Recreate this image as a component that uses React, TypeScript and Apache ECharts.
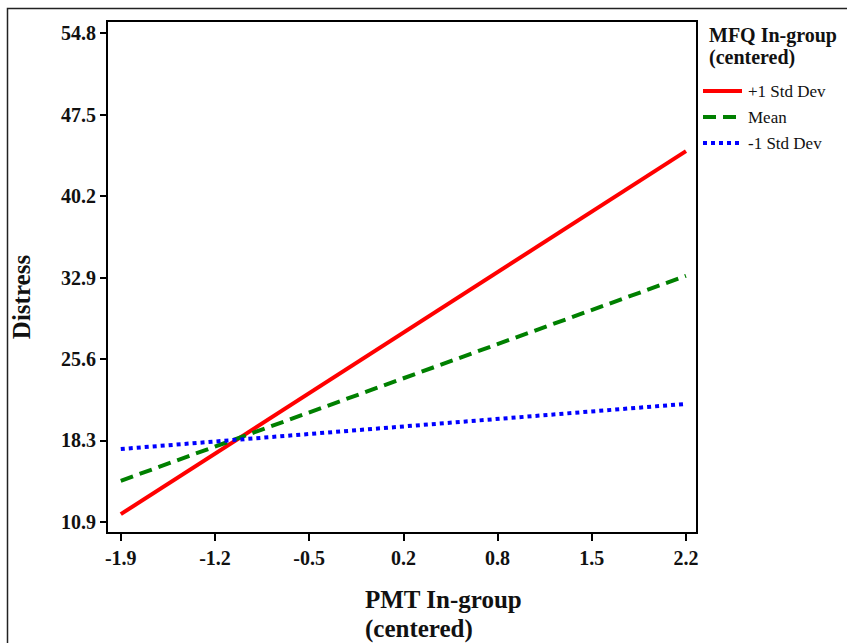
import React, { useEffect, useRef } from "react";
import * as echarts from "echarts";

const xTickLabels = ["-1.9", "-1.2", "-0.5", "0.2", "0.8", "1.5", "2.2"];
const yTickLabels = ["10.9", "18.3", "25.6", "32.9", "40.2", "47.5", "54.8"];
const xEnds = [-1.9, 2.2];
const seriesNames = ["+1 Std Dev", "Mean", "-1 Std Dev"];
const seriesColors = ["#ff0000", "#008000", "#0000ff"];
const plusOneSD = [11.6, 44.2];
const meanVals = [14.6, 33.0];
const minusOneSD = [17.45, 21.5];

const X_LO = -1.9, X_HI = 2.2, Y_LO = 10.9, Y_HI = 54.8;
const xStep = (X_HI - X_LO) / 6;
const yStep = (Y_HI - Y_LO) / 6;
const xTicks = xTickLabels.map((_, i) => X_LO + i * xStep);
const yTicks = yTickLabels.map((_, i) => Y_LO + i * yStep);

const FONT = "'Liberation Serif', 'Times New Roman', serif";
const DASHES: any[] = [null, [13, 7], [4, 4]];

export default function App() {
  const ref = useRef<HTMLDivElement>(null);
  useEffect(() => {
    if (!ref.current) return;
    const chart = echarts.init(ref.current, null, { renderer: "svg" });
    const mk = (vals: number[]) => xEnds.map((x, i) => [x, vals[i]]);
    const legendGraphics: any[] = [];
    seriesNames.forEach((n, i) => {
      const y = 91 + i * 26;
      legendGraphics.push({
        type: "line", shape: { x1: 703, y1: y, x2: 742, y2: y }, silent: true,
        style: { stroke: seriesColors[i], lineWidth: 4, lineDash: DASHES[i] || undefined },
      });
      legendGraphics.push({
        type: "text", x: 748, y: y,
        style: { text: n, font: `17px ${FONT}`, fill: "#111", verticalAlign: "middle", align: "left" },
      });
    });
    chart.setOption({
      animation: false,
      backgroundColor: "#fff",
      grid: {
        left: 107, top: 21, width: 590, height: 512,
        show: true, borderColor: "#000", borderWidth: 2, backgroundColor: "transparent",
      },
      title: {
        text: "MFQ In-group\n(centered)",
        left: 704, top: 19,
        textStyle: { fontFamily: FONT, fontWeight: "bold", fontSize: 20, lineHeight: 22, color: "#111" },
      },
      xAxis: {
        type: "value", min: -2.0, max: 2.28,
        axisLine: { show: true, onZero: false, lineStyle: { color: "#000", width: 2 } },
        axisTick: { show: true, length: 8, lineStyle: { color: "#000", width: 2 }, customValues: xTicks },
        axisLabel: {
          customValues: xTicks, margin: 15, color: "#111", fontFamily: FONT, fontWeight: "bold", fontSize: 20,
          formatter: (v: number) => xTickLabels[Math.round((v - X_LO) / xStep)] ?? "",
        },
        splitLine: { show: false },
      },
      yAxis: {
        type: "value", min: 9.91, max: 55.88,
        axisLine: { show: true, onZero: false, lineStyle: { color: "#000", width: 2 } },
        axisTick: { show: true, length: 7, lineStyle: { color: "#000", width: 2 }, customValues: yTicks },
        axisLabel: {
          customValues: yTicks, margin: 11, color: "#111", fontFamily: FONT, fontWeight: "bold", fontSize: 20,
          formatter: (v: number) => yTickLabels[Math.round((v - Y_LO) / yStep)] ?? "",
        },
        splitLine: { show: false },
      },
      graphic: [
        {
          type: "rect", shape: { x: 7.5, y: 8.5, width: 900, height: 700 },
          style: { fill: "none", stroke: "#222", lineWidth: 1.5 }, silent: true,
        },
        {
          type: "text", x: 21, y: 297, rotation: Math.PI / 2,
          style: { text: "Distress", font: `bold 25px ${FONT}`, fill: "#111", align: "center", verticalAlign: "middle" },
        },
        {
          type: "text", x: 365, y: 585,
          style: {
            text: "PMT In-group\n(centered)", font: `bold 25px ${FONT}`, lineHeight: 29, fill: "#111", align: "left",
          },
        },
        ...legendGraphics,
      ],
      series: [
        {
          name: seriesNames[0], type: "line", data: mk(plusOneSD), symbol: "none",
          lineStyle: { color: seriesColors[0], width: 4, type: "solid" },
        },
        {
          name: seriesNames[1], type: "line", data: mk(meanVals), symbol: "none",
          lineStyle: { color: seriesColors[1], width: 4, type: DASHES[1] },
        },
        {
          name: seriesNames[2], type: "line", data: mk(minusOneSD), symbol: "none",
          lineStyle: { color: seriesColors[2], width: 4, type: DASHES[2] },
        },
      ],
    });
    return () => chart.dispose();
  }, []);
  return <div ref={ref} style={{ width: 847, height: 643, position: "absolute", left: 0, top: 0 }} />;
}
